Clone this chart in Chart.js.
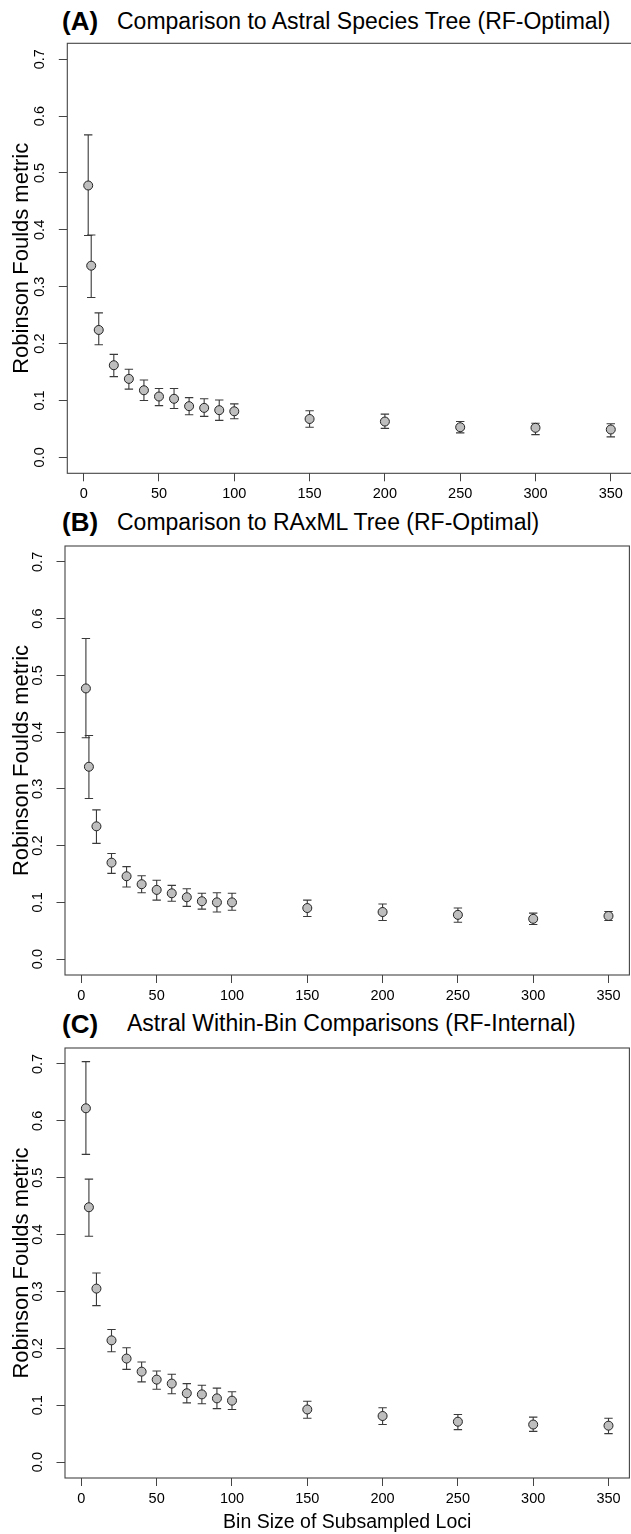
<!DOCTYPE html>
<html><head><meta charset="utf-8">
<script src="https://cdn.jsdelivr.net/npm/chart.js@4.4.0/dist/chart.umd.min.js"></script>
<style>
html,body{margin:0;padding:0;background:#fff;}
body{width:631px;height:1534px;overflow:hidden;position:relative;font-family:"Liberation Sans",Arial,Helvetica,sans-serif;}
.panel{position:absolute;left:0;width:640px;}
.ttl{position:absolute;white-space:nowrap;color:#000;}
.lab{font-weight:bold;font-size:26px;line-height:26px;}
.txt{font-size:23px;line-height:23px;}
</style></head><body>

<div class="ttl lab" style="left:62px;top:8px;">(A)</div>
<div class="ttl txt" style="left:117px;top:9.5px;">Comparison to Astral Species Tree (RF-Optimal)</div>
<div class="ttl lab" style="left:62px;top:509px;">(B)</div>
<div class="ttl txt" style="left:117px;top:510.5px;">Comparison to RAxML Tree (RF-Optimal)</div>
<div class="ttl lab" style="left:62px;top:1010.5px;">(C)</div>
<div class="ttl txt" style="left:127px;top:1012px;">Astral Within-Bin Comparisons (RF-Internal)</div>

<div class="panel" style="top:0px;height:506px;"><canvas id="pA" width="640" height="506"></canvas></div>
<div class="panel" style="top:506px;height:510px;"><canvas id="pB" width="640" height="510"></canvas></div>
<div class="panel" style="top:1016px;height:518px;"><canvas id="pC" width="640" height="518"></canvas></div>

<script>
// ---- data ----
const binSizes = [3, 5, 10, 20, 30, 40, 50, 60, 70, 80, 90, 100, 150, 200, 250, 300, 350];
const xTickValues = [0, 50, 100, 150, 200, 250, 300, 350];
const yTickValues = [0, 0.1, 0.2, 0.3, 0.4, 0.5, 0.6, 0.7];

const rfAstralMean  = [0.478, 0.337, 0.224, 0.162, 0.138, 0.118, 0.107, 0.103, 0.090, 0.087, 0.083, 0.081, 0.0675, 0.063, 0.053, 0.052, 0.049];
const rfAstralLower = [0.390, 0.281, 0.198, 0.142, 0.120, 0.100, 0.091, 0.086, 0.075, 0.072, 0.065, 0.068, 0.053, 0.051, 0.043, 0.040, 0.036];
const rfAstralUpper = [0.567, 0.391, 0.254, 0.181, 0.155, 0.136, 0.121, 0.121, 0.105, 0.103, 0.101, 0.094, 0.082, 0.076, 0.063, 0.060, 0.059];

const rfRaxmlMean  = [0.477, 0.339, 0.234, 0.170, 0.146, 0.132, 0.122, 0.116, 0.109, 0.102, 0.100, 0.100, 0.090, 0.083, 0.078, 0.071, 0.076];
const rfRaxmlLower = [0.390, 0.283, 0.204, 0.151, 0.127, 0.117, 0.104, 0.102, 0.093, 0.088, 0.083, 0.086, 0.075, 0.068, 0.065, 0.061, 0.068];
const rfRaxmlUpper = [0.565, 0.394, 0.263, 0.186, 0.163, 0.147, 0.139, 0.130, 0.124, 0.116, 0.117, 0.116, 0.104, 0.097, 0.090, 0.081, 0.084];

const rfInternalMean  = [0.622, 0.448, 0.305, 0.214, 0.182, 0.159, 0.145, 0.138, 0.121, 0.119, 0.112, 0.108, 0.0925, 0.081, 0.071, 0.066, 0.064];
const rfInternalLower = [0.541, 0.397, 0.275, 0.194, 0.163, 0.141, 0.128, 0.120, 0.104, 0.1025, 0.094, 0.0925, 0.077, 0.066, 0.057, 0.054, 0.050];
const rfInternalUpper = [0.704, 0.4975, 0.3325, 0.233, 0.201, 0.176, 0.160, 0.1545, 0.138, 0.135, 0.130, 0.1236, 0.107, 0.0955, 0.0837, 0.079, 0.077];

const FONT = '"Liberation Sans", Arial, Helvetica, sans-serif';

// error bars drawn through the chart's scales
const errorBarPlugin = {
  id: 'errorBars',
  beforeDatasetsDraw(chart) {
    const ctx = chart.ctx, xs = chart.scales.x, ys = chart.scales.y;
    chart.data.datasets.forEach(ds => {
      if (!ds.errLower) return;
      ctx.save();
      ctx.strokeStyle = '#3a3a3a';
      ctx.lineWidth = 1.1;
      ds.data.forEach((p, i) => {
        const px = xs.getPixelForValue(p.x);
        const lo = ys.getPixelForValue(ds.errLower[i]);
        const hi = ys.getPixelForValue(ds.errUpper[i]);
        const w = 4.2;
        ctx.beginPath();
        ctx.moveTo(px, lo); ctx.lineTo(px, hi);
        ctx.moveTo(px - w, lo); ctx.lineTo(px + w, lo);
        ctx.moveTo(px - w, hi); ctx.lineTo(px + w, hi);
        ctx.stroke();
      });
      ctx.restore();
    });
  }
};
const boxPlugin = {
  id: 'plotBox',
  afterDraw(chart) {
    const a = chart.chartArea, ctx = chart.ctx;
    ctx.save();
    ctx.strokeStyle = '#444';
    ctx.lineWidth = 1.1;
    ctx.strokeRect(a.left, a.top, a.right - a.left, a.bottom - a.top);
    ctx.restore();
  }
};

function makePanel(id, mean, lower, upper, o) {
  const pts = binSizes.map((x, i) => ({ x: x, y: mean[i] }));
  new Chart(document.getElementById(id), {
    type: 'scatter',
    data: { datasets: [{
      data: pts, errLower: lower, errUpper: upper,
      pointRadius: 4.5, pointHoverRadius: 4.5,
      pointBackgroundColor: '#bebebe', pointBorderColor: '#222', pointBorderWidth: 1
    }]},
    options: {
      responsive: false, animation: false, devicePixelRatio: 1,
      layout: { padding: { top: o.top, right: o.right, bottom: 0, left: 0 } },
      plugins: { legend: { display: false }, tooltip: { enabled: false } },
      scales: {
        x: {
          type: 'linear', min: -10.88, max: 363.88,
          afterBuildTicks: s => { s.ticks = xTickValues.map(v => ({ value: v })); },
          afterFit: s => { s.height = o.xh; },
          grid: { drawOnChartArea: false, tickLength: 8, color: '#444', lineWidth: 1 },
          border: { display: false },
          ticks: { autoSkip: false, maxRotation: 0, padding: 4, color: '#000', font: { family: FONT, size: 14.5 } },
          title: { display: !!o.xTitle, text: o.xTitle || '', color: '#000', font: { family: FONT, size: 19.5 }, padding: { top: 0, bottom: 0 } }
        },
        y: {
          type: 'linear', min: -0.028, max: 0.728,
          afterBuildTicks: s => { s.ticks = yTickValues.map(v => ({ value: v })); },
          afterFit: s => { s.width = o.yw; },
          grid: { drawOnChartArea: false, tickLength: 8.5, color: '#444', lineWidth: 1 },
          border: { display: false },
          ticks: { minRotation: 90, maxRotation: 90, crossAlign: 'center', padding: 8.7, color: '#000',
                   font: { family: FONT, size: 14.5 }, callback: v => Number(v).toFixed(1) },
          title: { display: true, text: 'Robinson Foulds metric', color: '#000', font: { family: FONT, size: 22 }, padding: { top: 9, bottom: 0 } }
        }
      }
    },
    plugins: [errorBarPlugin, boxPlugin]
  });
}

makePanel('pA', rfAstralMean, rfAstralLower, rfAstralUpper, { top: 43.3, right: 8.3, xh: 32.7, yw: 67.3 });
makePanel('pB', rfRaxmlMean, rfRaxmlLower, rfRaxmlUpper, { top: 40, right: 10.6, xh: 41, yw: 65 });
makePanel('pC', rfInternalMean, rfInternalLower, rfInternalUpper, { top: 32, right: 10.6, xh: 56, yw: 65, xTitle: 'Bin Size of Subsampled Loci' });
</script>
</body></html>
